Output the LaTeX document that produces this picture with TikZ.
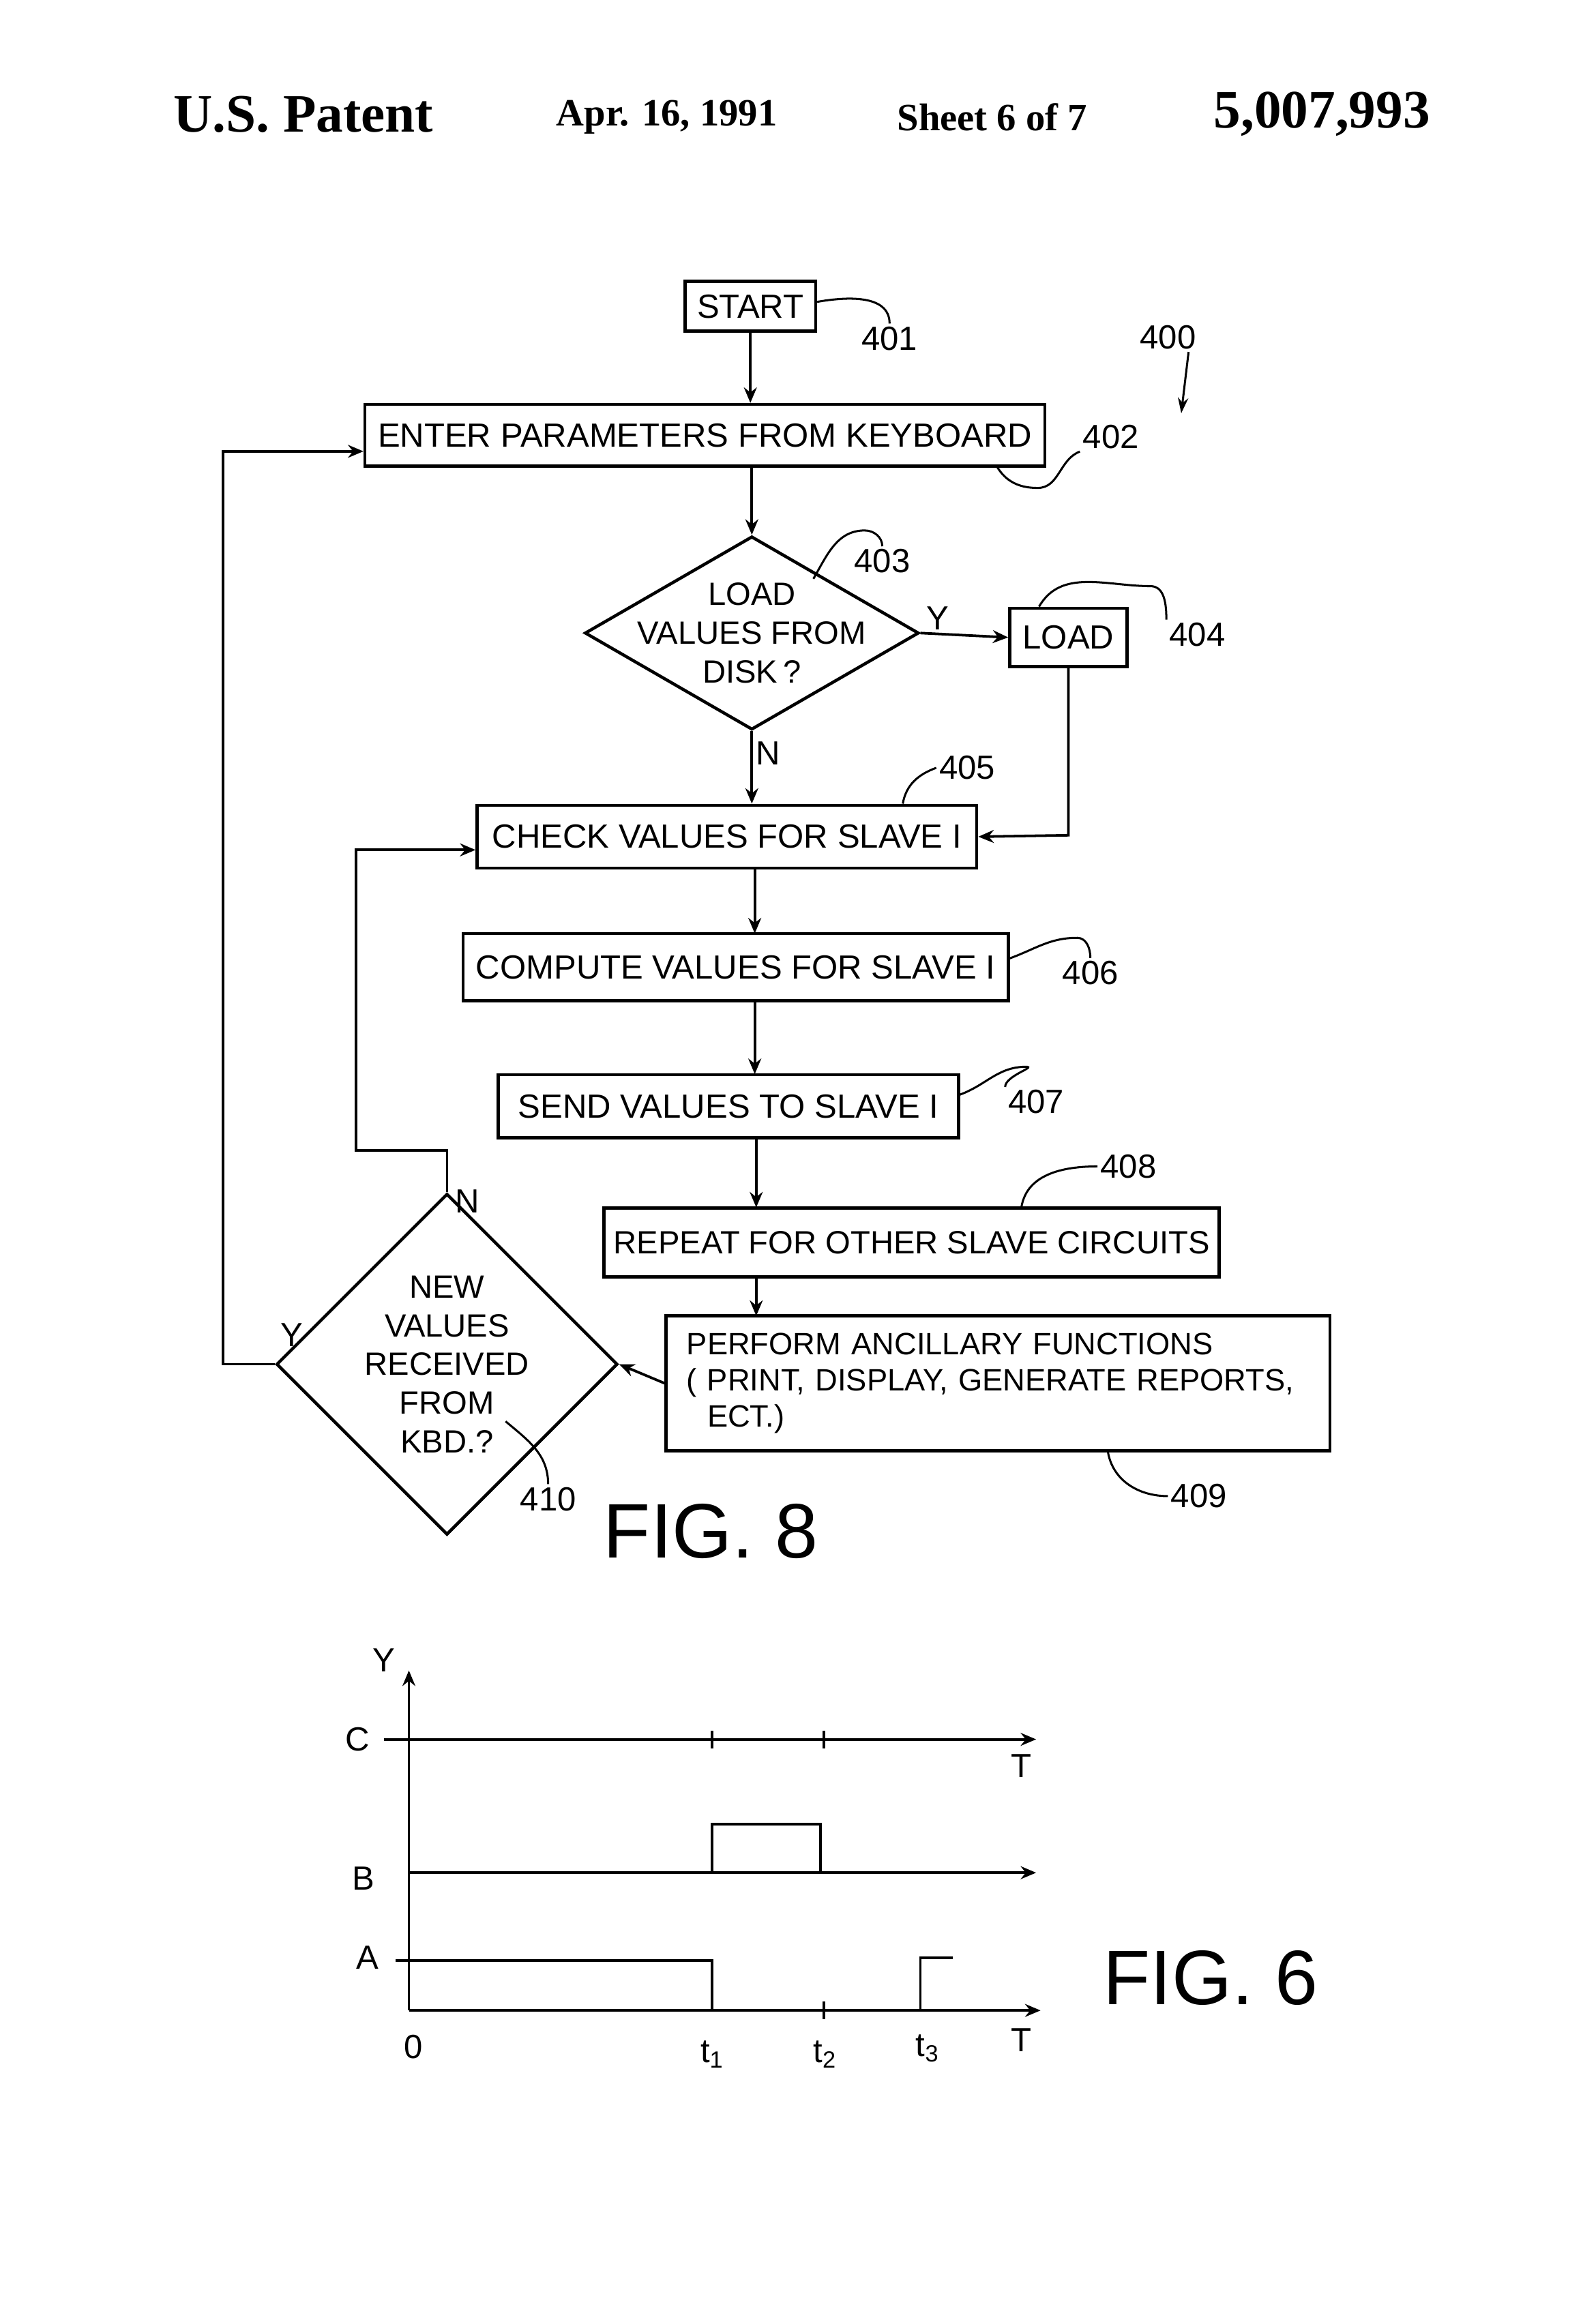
\documentclass[tikz,border=0pt]{standalone}
\usepackage{fontspec}
\setmainfont{Liberation Serif}
\setsansfont{Liberation Sans}
\usetikzlibrary{shapes.geometric,arrows.meta}

\tikzset{
  box/.style={shape=rectangle,draw=black,line width=1.2pt,inner sep=0pt,font=\sffamily\fontsize{13}{15}\selectfont},
  dia/.style={shape=diamond,draw=black,line width=1.2pt,inner sep=0pt,align=center,font=\sffamily\fontsize{12.5}{15}\selectfont},
  flow/.style={-{Stealth[length=6pt,width=5pt]},line width=1pt},
  lead/.style={line width=0.8pt},
  ref/.style={font=\sffamily\fontsize{13}{15}\selectfont,inner sep=1pt},
  lbl/.style={font=\sffamily\fontsize{13}{15}\selectfont,inner sep=1pt},
  head/.style={font=\bfseries\fontsize{15}{17}\selectfont},
}

\begin{document}
\begin{tikzpicture}[x=0.02cm,y=-0.02cm]
\useasboundingbox[fill=white] (0,0) rectangle (1080,1586);

% header
\node[head,font=\bfseries\fontsize{21}{23}\selectfont] (h1) at (207,78) {U.S. Patent};
\node[head] (h2) at (455,80) {Apr. 16, 1991};
\node[head] (h3) at (677,80) {Sheet 6 of 7};
\node[head,font=\bfseries\fontsize{21}{23}\selectfont] (h4) at (902,78) {5,007,993};

% flow chart (fig 8)
\node[box,minimum width=1.78cm,minimum height=0.68cm] (start) at (512,209) {START};
\node[box,minimum width=9.28cm,minimum height=0.84cm] (enter) at (481,297) {ENTER PARAMETERS FROM KEYBOARD};
\node[dia,minimum width=4.56cm,minimum height=2.64cm,shape aspect=1.73,inner sep=-7pt] (disk) at (513,432) {LOAD\\VALUES FROM\\DISK\,?};
\node[box,minimum width=1.6cm,minimum height=0.8cm] (load) at (729,435) {LOAD};
\node[box,minimum width=6.82cm,minimum height=0.86cm] (check) at (496,571) {CHECK VALUES FOR SLAVE I};
\node[box,minimum width=7.44cm,minimum height=0.92cm] (comp) at (502,660) {COMPUTE VALUES FOR SLAVE I};
\node[box,minimum width=6.28cm,minimum height=0.86cm] (send) at (497,755) {SEND VALUES TO SLAVE I};
\node[box,minimum width=8.4cm,minimum height=0.94cm,font=\sffamily\fontsize{12.5}{15}\selectfont] (rep) at (622,848) {REPEAT FOR OTHER SLAVE CIRCUITS};
\node[box,minimum width=9.06cm,minimum height=1.84cm,align=left,text width=8.5cm,font=\sffamily\fontsize{12}{14}\selectfont] (perf) at (681,944)
  {PERFORM ANCILLARY FUNCTIONS\\( PRINT, DISPLAY, GENERATE REPORTS,\\\ \ ECT.)};
\node[dia,minimum width=4cm,minimum height=4.04cm] (kbd) at (305,931) {NEW\\VALUES\\RECEIVED\\FROM\\KBD.?};

\coordinate (c1) at (729,570);
\coordinate (c2) at (305,785);
\coordinate (c3) at (243,785);
\coordinate (c4) at (243,580);
\coordinate (c5) at (152,931);
\coordinate (c6) at (152,308);

\draw[flow] (start) -- (start |- enter.north);
\draw[flow] (enter.south -| disk.north) -- (disk.north);
\draw[flow] (disk.east) -- node[lbl,above,pos=0.2] {Y} (load.west);
\draw[flow] (load.south) -- (c1) -- (check.east);
\draw[flow] (disk.south) -- node[lbl,right,pos=0.3] {N} (disk.south |- check.north);
\draw[flow] (515,593) -- (515,637);
\draw[flow] (515,683) -- (515,733);
\draw[flow] (516,776) -- (516,824);
\draw[flow] (516,871) -- (516,898);
\draw[flow] (perf.west) -- (kbd.east);
\draw[flow] (kbd.north) -- (c2) -- (c3) -- (c4) -- (check.west |- c4);
\draw[flow] (kbd.west) -- (c5) -- (c6) -- (enter.west |- c6);
\node[lbl] (nlab) at (319,820) {N};
\node[lbl] (ylab) at (199,911) {Y};

% reference numerals
\node[ref] (r401) at (607,231) {401};
\node[ref] (r400) at (797,230) {400};
\node[ref] (r402) at (758,298) {402};
\node[ref] (r403) at (602,383) {403};
\node[ref] (r404) at (817,433) {404};
\node[ref] (r405) at (660,524) {405};
\node[ref] (r406) at (744,664) {406};
\node[ref] (r407) at (707,752) {407};
\node[ref] (r408) at (770,796) {408};
\node[ref] (r409) at (818,1021) {409};
\node[ref] (r410) at (374,1023) {410};
\draw[lead] (start.east) ++(0,-3) to[out=10,in=90] (r401.north);
\draw[lead,-{Stealth[length=6pt,width=4pt]}] (r400.south) ++(14,0) -- (806,282);
\draw[lead] (680,318) to[out=-60,in=180] (708,333) to[out=0,in=200] (r402.south west);
\draw[lead] (555,395) to[out=60,in=180] (590,362) to[out=0,in=90] (r403.north);
\draw[lead] (load.north) ++(-20,0) to[out=60,in=180] (785,400) to[out=0,in=90] (r404.north west);
\draw[lead] (check.north) ++(120,0) to[out=80,in=200] (r405.west);
\draw[lead] (comp.east) ++(0,-6) to[out=20,in=180] (735,640) to[out=0,in=90] (r406.north);
\draw[lead] (send.east) ++(0,-8) to[out=20,in=180] (700,728) to[out=0,in=90] (r407.north west);
\draw[lead] (rep.north) ++(75,0) to[out=80,in=180] (r408.west);
\draw[lead] (perf.south) ++(75,0) to[out=-80,in=180] (r409.west);
\draw[lead] (345,970) to[out=-40,in=90] (r410.north);
\node[font=\sffamily\fontsize{30}{32}\selectfont] (fig8) at (485,1045) {FIG. 8};

% timing chart (fig 6)
\coordinate (o) at (279,1372);
\coordinate (ytop) at (279,1140);
\coordinate (tend) at (710,1372);
\coordinate (cs) at (262,1187);
\coordinate (ce) at (707,1187);
\coordinate (bs) at (279,1278);
\coordinate (be) at (707,1278);
\draw[flow] (o) -- (ytop);
\draw[flow] (o) -- (tend);
\draw[flow] (cs) -- (ce);
\draw[flow] (bs) -- (be);
\draw[line width=1pt] (486,1181) -- (486,1193) (562,1181) -- (562,1193);
\draw[line width=1pt] (486,1278) -- (486,1245) -- (560,1245) -- (560,1278);
\draw[line width=1pt] (270,1338) -- (486,1338) -- (486,1372);
\draw[line width=1pt] (562,1366) -- (562,1378);
\draw[line width=1pt] (628,1372) -- (628,1336) -- (650,1336);
\node[lbl] (ly) at (262,1133) {Y};
\node[lbl] (lc) at (244,1187) {C};
\node[lbl] (lb) at (248,1282) {B};
\node[lbl] (la) at (251,1336) {A};
\node[lbl] (lt1) at (697,1205) {T};
\node[lbl] (lt2) at (697,1392) {T};
\node[lbl] (l0) at (282,1397) {0};
\node[lbl] (t1) at (486,1402) {t\textsubscript{1}};
\node[lbl] (t2) at (563,1402) {t\textsubscript{2}};
\node[lbl] (t3) at (633,1398) {t\textsubscript{3}};
\node[font=\sffamily\fontsize{30}{32}\selectfont] (fig6) at (826,1350) {FIG. 6};
\end{tikzpicture}
\end{document}
